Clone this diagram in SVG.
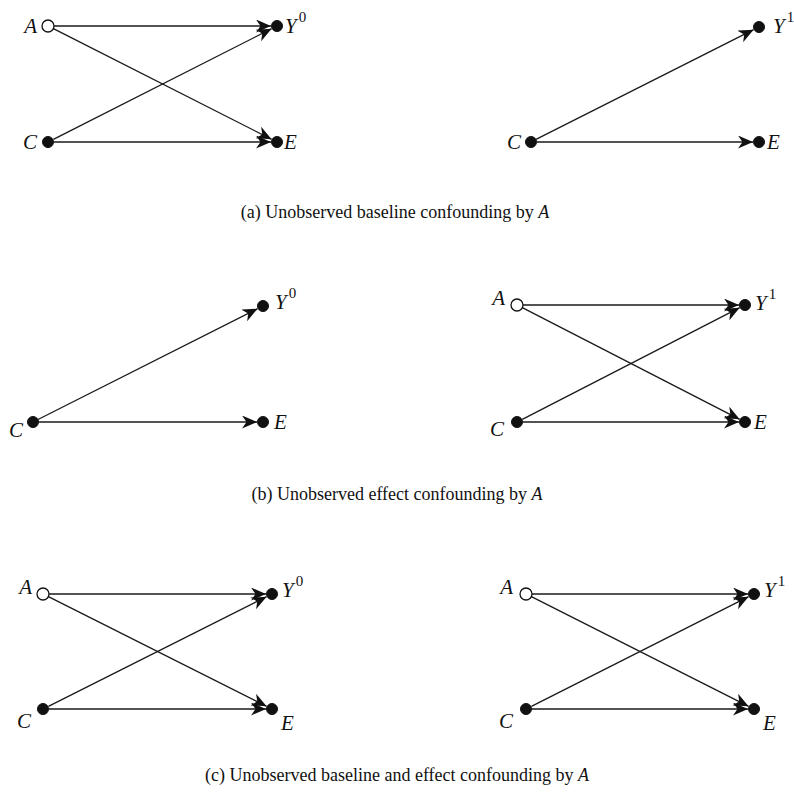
<svg xmlns="http://www.w3.org/2000/svg" width="794" height="794" viewBox="0 0 794 794">
<style>
.e{stroke:#1a1a1a;stroke-width:1.3;fill:none;marker-end:url(#ah)}
.f{fill:#111;stroke:#111;stroke-width:1}
.o{fill:#fff;stroke:#111;stroke-width:1.3}
.l{font-family:"Liberation Serif","Times New Roman",serif;font-style:italic;font-size:21px;fill:#111}
.s{font-size:15px;font-style:normal}
.c{font-family:"Liberation Serif","Times New Roman",serif;font-size:18px;fill:#111;text-anchor:middle}
</style>
<defs>
<marker id="ah" viewBox="0 0 15 13" refX="15" refY="6.5" markerWidth="15" markerHeight="13" markerUnits="userSpaceOnUse" orient="auto">
<path d="M0,0 L15,6.5 L0,13 L4.5,6.5 Z" fill="#111"/>
</marker>
</defs>
<rect width="794" height="794" fill="#fff"/>
<g id="connectors">
<line class="e" x1="54" y1="26" x2="271" y2="26"/>
<line class="e" x1="53.4" y1="28.7" x2="271.6" y2="139.3"/>
<line class="e" x1="53.4" y1="139.3" x2="271.6" y2="28.7"/>
<line class="e" x1="54" y1="142" x2="271" y2="142"/>
<line class="e" x1="536" y1="139.3" x2="753.6" y2="29.7"/>
<line class="e" x1="537" y1="142" x2="753" y2="142"/>
<line class="e" x1="38" y1="419.5" x2="257.6" y2="308.7"/>
<line class="e" x1="39" y1="422" x2="257" y2="422"/>
<line class="e" x1="523" y1="305" x2="739" y2="305"/>
<line class="e" x1="522.3" y1="307.7" x2="739.7" y2="419.3"/>
<line class="e" x1="522.3" y1="419.3" x2="739.7" y2="307.7"/>
<line class="e" x1="523" y1="422" x2="739" y2="422"/>
<line class="e" x1="49" y1="594" x2="266" y2="594"/>
<line class="e" x1="48.4" y1="596.7" x2="266.6" y2="706.3"/>
<line class="e" x1="48.4" y1="706.3" x2="266.6" y2="596.7"/>
<line class="e" x1="49" y1="709" x2="266" y2="709"/>
<line class="e" x1="532" y1="594" x2="748" y2="594"/>
<line class="e" x1="531.4" y1="596.7" x2="748.6" y2="706.3"/>
<line class="e" x1="531.4" y1="706.3" x2="748.6" y2="596.7"/>
<line class="e" x1="532" y1="709" x2="748" y2="709"/>
</g>
<g id="a1-A"><circle class="o" cx="48" cy="26" r="6"/><text class="l" x="37" y="33" text-anchor="end">A</text></g>
<g id="a1-Y0"><circle class="f" cx="277" cy="26" r="5.5"/><text class="l" x="285" y="33">Y<tspan class="s" dy="-11" dx="2">0</tspan></text></g>
<g id="a1-C"><circle class="f" cx="48" cy="142" r="5.5"/><text class="l" x="37" y="149" text-anchor="end">C</text></g>
<g id="a1-E"><circle class="f" cx="277" cy="142" r="5.5"/><text class="l" x="284" y="149">E</text></g>
<g id="a2-Y1"><circle class="f" cx="759" cy="27" r="5.5"/><text class="l" x="773" y="33">Y<tspan class="s" dy="-11" dx="2">1</tspan></text></g>
<g id="a2-C"><circle class="f" cx="531" cy="142" r="5.5"/><text class="l" x="521" y="149" text-anchor="end">C</text></g>
<g id="a2-E"><circle class="f" cx="759" cy="142" r="5.5"/><text class="l" x="767" y="149">E</text></g>
<text class="c" x="395" y="218">(a) Unobserved baseline confounding by <tspan font-style="italic">A</tspan></text>
<g id="b1-Y0"><circle class="f" cx="263" cy="306" r="5.5"/><text class="l" x="275" y="309">Y<tspan class="s" dy="-11" dx="2">0</tspan></text></g>
<g id="b1-C"><circle class="f" cx="33" cy="422" r="5.5"/><text class="l" x="23" y="437" text-anchor="end">C</text></g>
<g id="b1-E"><circle class="f" cx="263" cy="422" r="5.5"/><text class="l" x="274" y="429">E</text></g>
<g id="b2-A"><circle class="o" cx="517" cy="305" r="6"/><text class="l" x="505" y="305" text-anchor="end">A</text></g>
<g id="b2-Y1"><circle class="f" cx="745" cy="305" r="5.5"/><text class="l" x="755" y="310">Y<tspan class="s" dy="-11" dx="2">1</tspan></text></g>
<g id="b2-C"><circle class="f" cx="517" cy="422" r="5.5"/><text class="l" x="504" y="436" text-anchor="end">C</text></g>
<g id="b2-E"><circle class="f" cx="745" cy="422" r="5.5"/><text class="l" x="754" y="429">E</text></g>
<text class="c" x="397" y="500">(b) Unobserved effect confounding by <tspan font-style="italic">A</tspan></text>
<g id="c1-A"><circle class="o" cx="43" cy="594" r="6"/><text class="l" x="32" y="594" text-anchor="end">A</text></g>
<g id="c1-Y0"><circle class="f" cx="272" cy="594" r="5.5"/><text class="l" x="282" y="597">Y<tspan class="s" dy="-11" dx="2">0</tspan></text></g>
<g id="c1-C"><circle class="f" cx="43" cy="709" r="5.5"/><text class="l" x="31" y="728" text-anchor="end">C</text></g>
<g id="c1-E"><circle class="f" cx="272" cy="709" r="5.5"/><text class="l" x="281" y="730">E</text></g>
<g id="c2-A"><circle class="o" cx="526" cy="594" r="6"/><text class="l" x="513" y="594" text-anchor="end">A</text></g>
<g id="c2-Y1"><circle class="f" cx="754" cy="594" r="5.5"/><text class="l" x="764" y="597">Y<tspan class="s" dy="-11" dx="2">1</tspan></text></g>
<g id="c2-C"><circle class="f" cx="526" cy="709" r="5.5"/><text class="l" x="513" y="728" text-anchor="end">C</text></g>
<g id="c2-E"><circle class="f" cx="754" cy="709" r="5.5"/><text class="l" x="763" y="730">E</text></g>
<text class="c" x="397" y="781">(c) Unobserved baseline and effect confounding by <tspan font-style="italic">A</tspan></text>
</svg>
